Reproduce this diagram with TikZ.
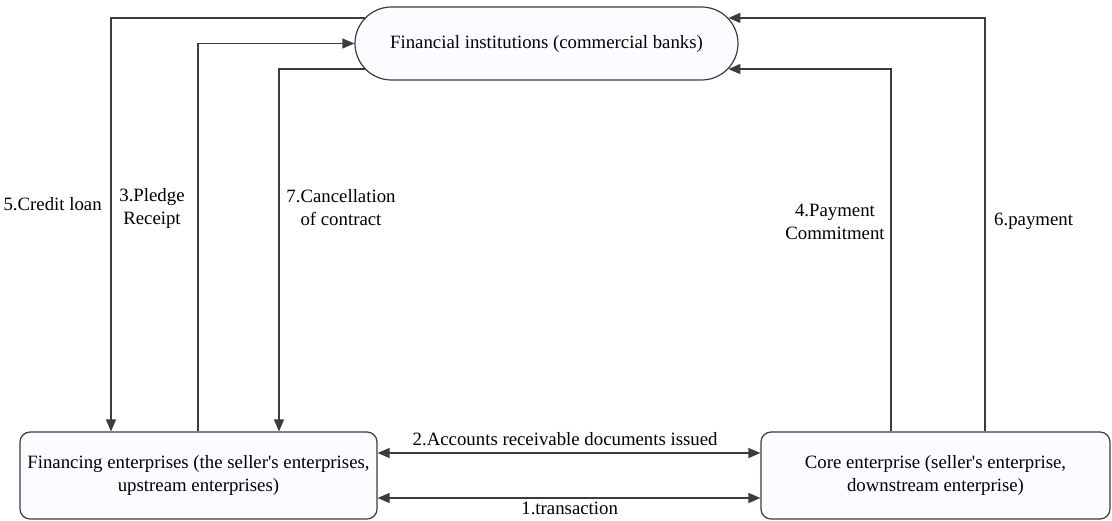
\documentclass[tikz,border=0pt]{standalone}
\usepackage{fontspec}
\setmainfont{Liberation Serif}
\usepackage{tikz}
\usetikzlibrary{shapes.misc, arrows.meta}
\definecolor{edge}{RGB}{60, 60, 60}
\definecolor{pale}{RGB}{250, 252, 255}

\begin{document}
\begin{tikzpicture}[
   x=1pt, y=-1pt,
   font=\fontsize{18.8}{23}\selectfont,
   bankbox/.style={rounded rectangle, draw=edge, fill=pale, line width=1.2,
                   minimum width=383, minimum height=73, inner sep=0},
   firmbox/.style={rectangle, rounded corners=10, draw=edge, fill=pale, line width=1.2,
                   minimum height=87, align=center, inner sep=0},
   flow/.style={-{Triangle[length=12, width=10]}, color=edge, line width=1.3},
   both/.style={{Triangle[length=12, width=10]}-{Triangle[length=12, width=10]}, color=edge, line width=1.3},
   lbl/.style={align=center, text=black, inner sep=0}
  ]

  \useasboundingbox (0, 0) rectangle (1112, 521);

  % Boxes
  \node (bank) at (546.5, 43.5) [bankbox] { Financial institutions (commercial banks) };
  \node (fin) at (198.5, 475.5) [firmbox, minimum width=357]
        { Financing enterprises (the seller\textquotesingle s enterprises,\\ upstream enterprises) };
  \node (core) at (935.5, 475.5) [firmbox, minimum width=349]
        { Core enterprise (seller\textquotesingle s enterprise,\\ downstream enterprise) };

  % Attach points
  \coordinate (fin5) at ([xshift=-87.5]fin.north);
  \coordinate (fin3) at ([xshift=-0.5]fin.north);
  \coordinate (fin7) at ([xshift=80.5]fin.north);
  \coordinate (core4) at ([xshift=-44.5]core.north);
  \coordinate (core6) at ([xshift=49.5]core.north);

  \foreach \B/\E in {bank.172/fin5, bank.188/fin7} {
    \draw[flow] (\B) -| (\E);
  }
  \foreach \B/\E in {fin3/bank.west, core4/bank.352, core6/bank.8} {
    \draw[flow] (\B) |- (\E);
  }

  \draw[both] ([yshift=22.5]fin.east) -- ([yshift=22.5]core.west);
  \draw[both] ([yshift=-22.5]fin.east) -- ([yshift=-22.5]core.west);

  % Labels
  \node (l5) at (55, 204) [lbl] { 5.Credit loan };
  \node (l3) at (152, 208) [lbl] { 3.Pledge\\ Receipt };
  \node (l7) at (341, 208) [lbl] { 7.Cancellation\\ of contract };
  \node (l4) at (835, 222) [lbl] { 4.Payment\\ Commitment };
  \node (l6) at (1036, 221) [lbl] { 6.payment };
  \node (l2) at (567.5, 439) [lbl] { 2.Accounts receivable documents issued };
  \node (l1) at (572, 508) [lbl] { 1.transaction };

\end{tikzpicture}
\end{document}
